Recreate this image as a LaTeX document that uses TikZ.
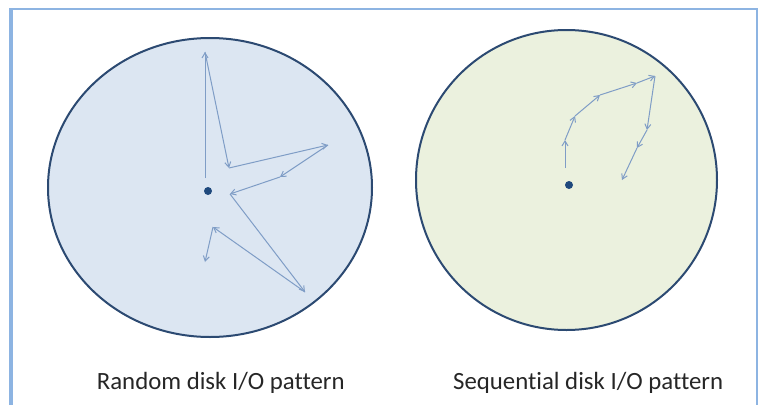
\documentclass[tikz,border=0pt]{standalone}
\usepackage{fontspec}
\setmainfont[Ligatures=NoCommon]{Carlito}
\usetikzlibrary{arrows.meta}
\definecolor{framec}{HTML}{8DB4E2}
\definecolor{rimc}{HTML}{2C4A72}
\definecolor{bluefill}{HTML}{DCE6F2}
\definecolor{greenfill}{HTML}{EBF1DE}
\definecolor{arrc}{HTML}{7F9DC6}
\definecolor{dotc}{HTML}{1F497D}
\tikzset{
  disk/.style={draw=rimc, line width=2pt},
  seek/.style={draw=arrc, line width=1pt, -{Straight Barb[length=5pt,width=6pt]}},
  spindle/.style={circle, fill=dotc, inner sep=0pt, minimum size=8pt},
  caption/.style={anchor=base west, inner sep=0pt, font=\fontsize{24.8}{28}\selectfont, text=black!85},
}
\begin{document}
\begin{tikzpicture}[x=1pt,y=-1pt]
\useasboundingbox (0,0) rectangle (764,405);
% frame
\draw[framec, line width=4pt] (11,405) -- (11,9);
\draw[framec, line width=2pt] (9,9) -- (757.3,9) -- (757.3,405);
% disks
\filldraw[disk, fill=bluefill] (210,187.5) ellipse [x radius=162, y radius=149.5];
\filldraw[disk, fill=greenfill] (566.5,180) ellipse [x radius=150.5, y radius=150];
\node[spindle] (c1) at (208,191) {};
\node[spindle] (c2) at (569,185) {};
% random pattern
\coordinate (r0) at (205,178);
\coordinate (r1) at (205,52);
\coordinate (r2) at (229,168);
\coordinate (r3) at (328,145);
\coordinate (r4) at (280,177);
\coordinate (r5) at (230,194);
\coordinate (r6) at (305,292);
\coordinate (r7) at (213,227);
\coordinate (r8) at (205,262);
\draw[seek] (r0) -- (r1);
\draw[seek] (r1) -- (r2);
\draw[seek] (r2) -- (r3);
\draw[seek] (r3) -- (r4);
\draw[seek] (r4) -- (r5);
\draw[seek] (r5) -- (r6);
\draw[seek] (r6) -- (r7);
\draw[seek] (r7) -- (r8);
% sequential pattern
\coordinate (s0) at (565,168);
\coordinate (s1) at (565,140);
\coordinate (s2) at (575,116);
\coordinate (s3) at (600,95);
\coordinate (s4) at (637,83);
\coordinate (s5) at (655,76);
\coordinate (s6) at (647,130);
\coordinate (s7) at (637,148);
\coordinate (s8) at (622,180);
\draw[seek] (s0) -- (s1);
\draw[seek] (s1) -- (s2);
\draw[seek] (s2) -- (s3);
\draw[seek] (s3) -- (s4);
\draw[seek] (s4) -- (s5);
\draw[seek] (s5) -- (s6);
\draw[seek] (s6) -- (s7);
\draw[seek] (s7) -- (s8);
% captions
\node[caption] (t1) at (96.7,389) {Random disk I/O pattern};
\node[caption] (t2) at (453,389) {Sequential disk I/O pattern};
\end{tikzpicture}
\end{document}
